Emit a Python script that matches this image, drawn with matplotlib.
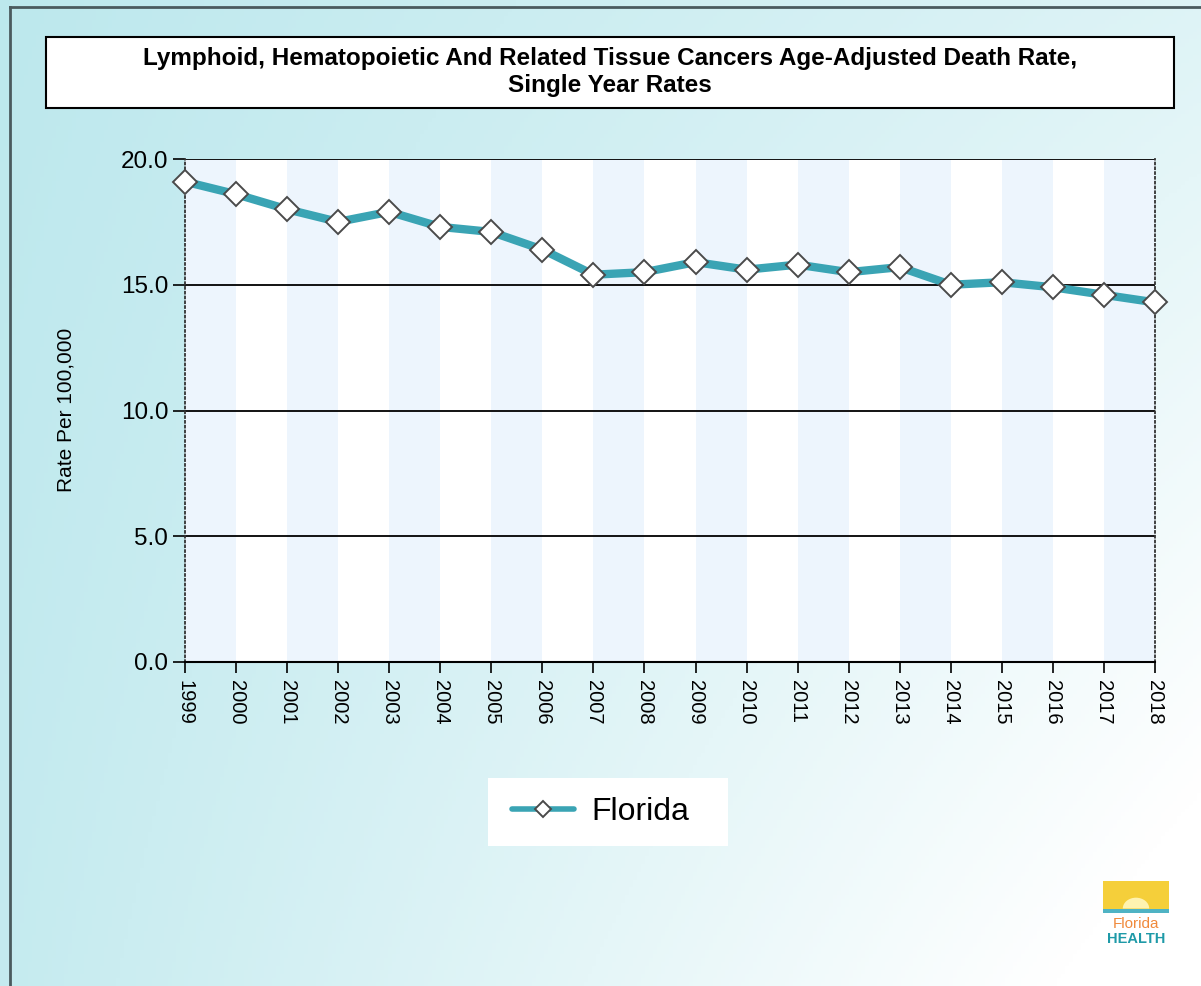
import numpy as np
import matplotlib
matplotlib.use('Agg')
import matplotlib.pyplot as plt
from matplotlib.patches import Rectangle, Wedge

years = list(range(1999, 2019))
rates = [19.1, 18.6, 18.0, 17.5, 17.9, 17.3, 17.1, 16.4, 15.4, 15.5,
         15.9, 15.6, 15.8, 15.5, 15.7, 15.0, 15.1, 14.9, 14.6, 14.3]
yticks = [0, 5, 10, 15, 20]
series_name = 'Florida'
title = ('Lymphoid, Hematopoietic And Related Tissue Cancers Age-Adjusted Death Rate,\n'
         'Single Year Rates')

FONT = ['Liberation Sans', 'DejaVu Sans']
W, H = 1201, 986
fig = plt.figure(figsize=(W / 100, H / 100), dpi=100)

# gradient background
bg = fig.add_axes([0, 0, 1, 1])
bg.set_axis_off()
gx, gy = np.meshgrid(np.linspace(0, 1, 300), np.linspace(0, 1, 250))
t = np.clip(0.5 * gx + 0.5 * gy * gx + 0.12 * gy, 0, 1)
c0 = np.array([0.74, 0.91, 0.93])
c1 = np.array([1.0, 1.0, 1.0])
img = c0[None, None, :] * (1 - t[..., None]) + c1[None, None, :] * t[..., None]
bg.imshow(img, extent=[0, 1, 0, 1], aspect='auto', origin='upper')
bg.set_xlim(0, 1)
bg.set_ylim(0, 1)
# frame lines (top and left)
bg.plot([10 / W, 1], [1 - 7 / H, 1 - 7 / H], color='#4a5a5e', lw=2)
bg.plot([10 / W, 10 / W], [0, 1 - 7 / H], color='#4a5a5e', lw=2)

# title box
bg.add_patch(Rectangle((46 / W, 1 - 108 / H), (1174 - 46) / W, 71 / H,
                       facecolor='white', edgecolor='black', linewidth=1.5))
bg.text(610 / W, 1 - 72 / H, title, ha='center', va='center', fontsize=17.5,
        fontweight='bold', linespacing=1.25, family=FONT)

ax = fig.add_axes([185 / W, 1 - 662 / H, 970 / W, 503 / H])
ax.set_facecolor('white')

# alternating column bands
for i in range(len(years) - 1):
    if i % 2 == 0:
        ax.axvspan(years[i], years[i + 1], color='#edf5fd', zorder=0, lw=0)

for v in yticks[1:]:
    ax.axhline(v, color='black', lw=1.3, zorder=1)

ax.plot(years, rates, color='#3aa4b4', lw=6, zorder=3, solid_capstyle='round',
        marker='D', markersize=12.5, markerfacecolor='white',
        markeredgecolor='#4a4a4a', markeredgewidth=1.4, label=series_name,
        clip_on=False)

ax.set_xlim(years[0], years[-1])
ax.set_ylim(0, 20)
ax.set_yticks(yticks)
ax.set_yticklabels(['%.1f' % v for v in yticks], fontsize=17.5, family=FONT)
ax.set_xticks(years)
ax.set_xticklabels([str(y) for y in years], rotation=-90, fontsize=14.5,
                   family=FONT)
ax.tick_params(axis='x', length=8, width=1.2, pad=5)
ax.tick_params(axis='y', length=9, width=1.2, pad=3)

ax.spines['left'].set_linestyle(':')
ax.spines['right'].set_linestyle(':')
ax.spines['left'].set_color('#333333')
ax.spines['right'].set_color('#333333')
ax.spines['left'].set_linewidth(1.3)
ax.spines['right'].set_linewidth(1.3)
ax.spines['top'].set_visible(False)
ax.spines['bottom'].set_linewidth(1.5)

ax.set_ylabel('Rate Per 100,000', fontsize=15, family=FONT)
ax.yaxis.set_label_coords(-(185 - 76) / 970, (662 - 410) / 503)

# legend: white panel plus frameless legend
bg.add_patch(Rectangle((488 / W, 1 - 846 / H), 240 / W, 68 / H,
                       facecolor='white', edgecolor='none'))
leg = fig.legend(loc='center left', bbox_to_anchor=(512 / W, 1 - 812 / H),
                 frameon=False, handlelength=1.95, borderpad=0,
                 handletextpad=0.55, borderaxespad=0,
                 prop={'family': FONT, 'size': 23})
for h in leg.legend_handles:
    h.set_markersize(8)
    h.set_linewidth(4)

# logo approximation
lx, ly = 1103 / W, 1 - 945 / H
lw_, lh_ = 66 / W, 64 / H
bg.add_patch(Rectangle((lx, ly + lh_ * 0.55), lw_, lh_ * 0.45,
                       facecolor='#f5cf3a', edgecolor='none'))
bg.add_patch(Rectangle((lx, ly + lh_ * 0.5), lw_, lh_ * 0.07,
                       facecolor='#4fb3c4', edgecolor='none'))
bg.add_patch(Wedge((lx + lw_ / 2, ly + lh_ * 0.57), 0.011, 0, 180,
                   facecolor='#fff3b0', edgecolor='none'))
bg.text(lx + lw_ / 2, ly + lh_ * 0.33, 'Florida', ha='center', va='center',
        fontsize=11, color='#f08a3c', family=FONT)
bg.text(lx + lw_ / 2, ly + lh_ * 0.1, 'HEALTH', ha='center', va='center',
        fontsize=10.5, fontweight='bold', color='#1f9aa8', family=FONT)

fig.savefig('out.png', dpi=100)
